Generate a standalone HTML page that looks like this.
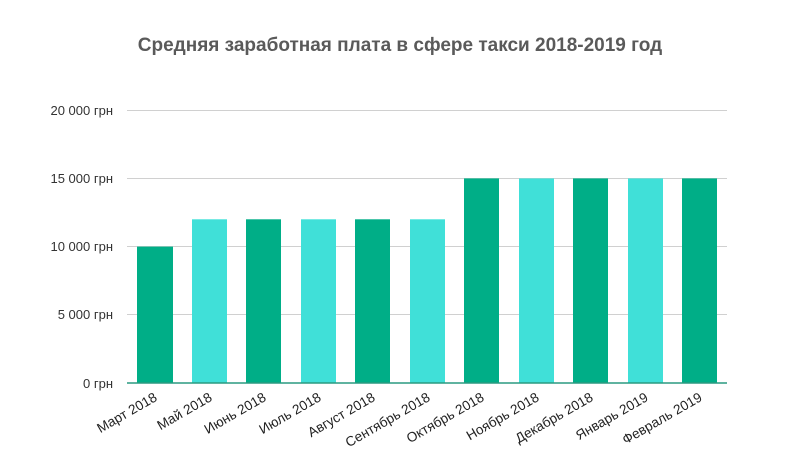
<!DOCTYPE html>
<html><head><meta charset="utf-8"><style>body{margin:0;background:#fff}svg{display:block}</style></head>
<body>
<svg width="800" height="466" xmlns="http://www.w3.org/2000/svg" font-family="Liberation Sans, sans-serif">
<rect width="800" height="466" fill="#fff"/>
<text x="400" y="51" text-anchor="middle" font-size="19" font-weight="bold" fill="#5a5a5a">Средняя заработная плата в сфере такси 2018-2019 год</text>
<g stroke="#d0d0d0" stroke-width="1">
<line x1="127" y1="110.5" x2="727" y2="110.5"/>
<line x1="127" y1="178.5" x2="727" y2="178.5"/>
<line x1="127" y1="246.5" x2="727" y2="246.5"/>
<line x1="127" y1="314.5" x2="727" y2="314.5"/>
</g>
<g font-size="13" fill="#333" text-anchor="end">
<text x="113" y="115">20 000 грн</text>
<text x="113" y="183">15 000 грн</text>
<text x="113" y="251">10 000 грн</text>
<text x="113" y="319">5 000 грн</text>
<text x="113" y="388">0 грн</text>
</g>
<g>
<rect x="137" y="246.6" width="36" height="136.4" fill="#00ae87"/>
<rect x="192" y="219.3" width="35" height="163.7" fill="#40e0d8"/>
<rect x="246" y="219.3" width="35" height="163.7" fill="#00ae87"/>
<rect x="301" y="219.3" width="35" height="163.7" fill="#40e0d8"/>
<rect x="355" y="219.3" width="35" height="163.7" fill="#00ae87"/>
<rect x="410" y="219.3" width="35" height="163.7" fill="#40e0d8"/>
<rect x="464" y="178.4" width="35" height="204.6" fill="#00ae87"/>
<rect x="519" y="178.4" width="35" height="204.6" fill="#40e0d8"/>
<rect x="573" y="178.4" width="35" height="204.6" fill="#00ae87"/>
<rect x="628" y="178.4" width="35" height="204.6" fill="#40e0d8"/>
<rect x="682" y="178.4" width="35" height="204.6" fill="#00ae87"/>
</g>
<line x1="127" y1="383" x2="727" y2="383" stroke="#2a9a80" stroke-width="1.5"/>
<g font-size="13.6" fill="#222" text-anchor="end">
<text transform="translate(158,400) rotate(-30)">Март 2018</text>
<text transform="translate(213,400) rotate(-30)">Май 2018</text>
<text transform="translate(267,400) rotate(-30)">Июнь 2018</text>
<text transform="translate(322,400) rotate(-30)">Июль 2018</text>
<text transform="translate(376,400) rotate(-30)">Август 2018</text>
<text transform="translate(431,400) rotate(-30)">Сентябрь 2018</text>
<text transform="translate(485,400) rotate(-30)">Октябрь 2018</text>
<text transform="translate(540,400) rotate(-30)">Ноябрь 2018</text>
<text transform="translate(594,400) rotate(-30)">Декабрь 2018</text>
<text transform="translate(649,400) rotate(-30)">Январь 2019</text>
<text transform="translate(703,400) rotate(-30)">Февраль 2019</text>
</g>
</svg>
</body></html>
